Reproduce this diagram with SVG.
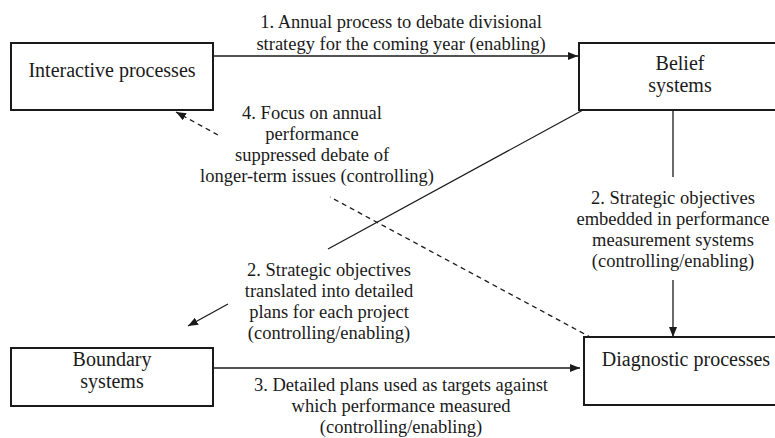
<svg xmlns="http://www.w3.org/2000/svg" width="775" height="438" viewBox="0 0 775 438">
<style>
.box{fill:#fff;stroke:#1a1a1a;stroke-width:2}
.node{font-family:"Liberation Serif","Times New Roman",serif;font-size:20px;fill:#1a1a1a;text-anchor:middle}
.lbl{font-family:"Liberation Serif","Times New Roman",serif;font-size:18.5px;fill:#1a1a1a;text-anchor:middle}
.edge{fill:none;stroke:#1a1a1a;stroke-width:1.3}
.dash{stroke-dasharray:5 4}
</style>
<defs>
<marker id="ah" markerUnits="userSpaceOnUse" markerWidth="11" markerHeight="9" refX="10" refY="4" orient="auto">
<path d="M0,0 L10,4 L0,8 z" fill="#1a1a1a"/>
</marker>
</defs>
<rect width="775" height="438" fill="#fff"/>
<g id="connectors">
<line class="edge" x1="213" y1="56" x2="578" y2="56" marker-end="url(#ah)"/>
<line class="edge" x1="673" y1="110" x2="673" y2="177"/>
<line class="edge" x1="673" y1="280" x2="673" y2="337" marker-end="url(#ah)"/>
<line class="edge" x1="213" y1="368" x2="580" y2="368" marker-end="url(#ah)"/>
<line class="edge" x1="583" y1="110" x2="328" y2="249"/>
<line class="edge" x1="228" y1="304" x2="188" y2="326" marker-end="url(#ah)"/>
<line class="edge dash" x1="592" y1="338" x2="330" y2="197"/>
<line class="edge dash" x1="218" y1="135" x2="176" y2="112" marker-end="url(#ah)"/>
<text class="lbl"><tspan x="401" y="28">1. Annual process to debate divisional</tspan><tspan x="401" y="50">strategy for the coming year (enabling)</tspan></text>
<text class="lbl"><tspan x="673" y="204">2. Strategic objectives</tspan><tspan x="673" y="225">embedded in performance</tspan><tspan x="673" y="246">measurement systems</tspan><tspan x="673" y="267">(controlling/enabling)</tspan></text>
<text class="lbl"><tspan x="329" y="276">2. Strategic objectives</tspan><tspan x="329" y="297">translated into detailed</tspan><tspan x="329" y="318">plans for each project</tspan><tspan x="329" y="339">(controlling/enabling)</tspan></text>
<text class="lbl"><tspan x="401" y="391">3. Detailed plans used as targets against</tspan><tspan x="401" y="412">which performance measured</tspan><tspan x="401" y="433">(controlling/enabling)</tspan></text>
<text class="lbl"><tspan x="312" y="119">4. Focus on annual</tspan><tspan x="312" y="140">performance</tspan><tspan x="312" y="161">suppressed debate of</tspan><tspan x="317" y="182">longer-term issues (controlling)</tspan></text>
</g>
<g id="interactive">
<rect class="box" x="11" y="43" width="202" height="67"/>
<text class="node" x="112" y="77">Interactive processes</text>
</g>
<g id="belief">
<rect class="box" x="579" y="43" width="204" height="67"/>
<text class="node"><tspan x="680" y="70">Belief</tspan><tspan x="680" y="92">systems</tspan></text>
</g>
<g id="boundary">
<rect class="box" x="11" y="348" width="202" height="58"/>
<text class="node"><tspan x="112" y="366">Boundary</tspan><tspan x="112" y="388">systems</tspan></text>
</g>
<g id="diagnostic">
<rect class="box" x="584" y="337" width="204" height="68"/>
<text class="node" x="686" y="366">Diagnostic processes</text>
</g>
</svg>
